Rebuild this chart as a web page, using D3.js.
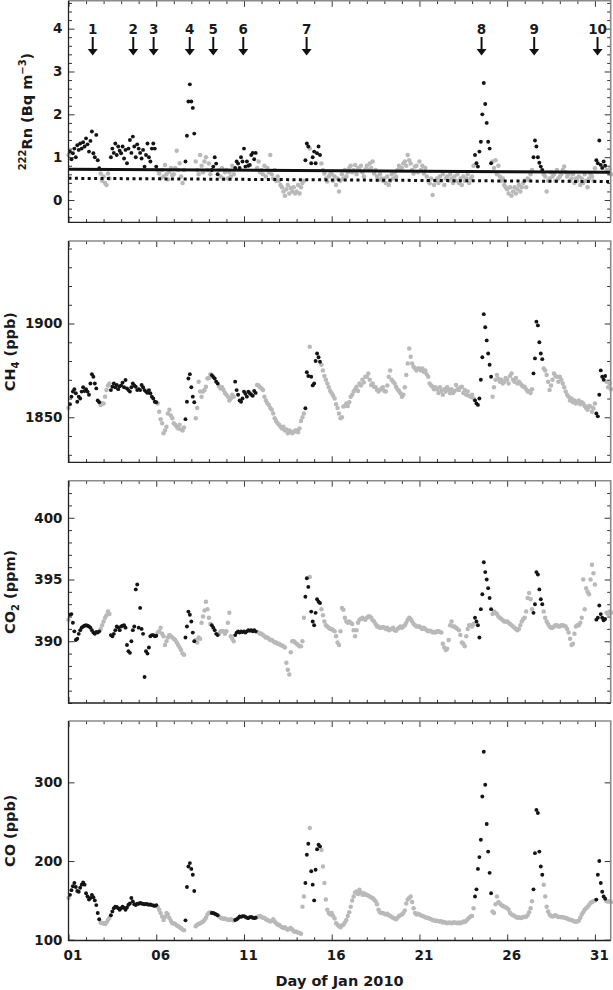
<!DOCTYPE html>
<html><head><meta charset="utf-8">
<script src="https://cdn.jsdelivr.net/npm/d3@7/dist/d3.min.js"></script>
<style>
body{margin:0;background:#fff}
svg{display:block}
text{font-family:"DejaVu Sans",sans-serif;font-weight:bold;fill:#1a1a1a}
</style>
</head><body>
<svg id="c" width="613" height="990"></svg>
<script>
// ---- data (2-hourly samples starting Jan 1 00:00) ----
const startDay = 1;
const stepDays = 2 / 24;

const rn = [
1.05,1.13,0.95,1.09,1.2,1.0,1.28,1.17,1.32,1.2,1.35,1.25,
1.44,1.3,1.13,1.38,1.6,1.09,1.0,1.52,0.93,0.74,0.62,0.45,
0.55,0.4,0.35,0.62,0.5,1.0,1.2,1.1,1.32,1.05,1.25,1.15,
1.09,1.25,0.97,1.17,0.86,1.2,1.4,1.1,1.48,1.25,1.0,1.3,
1.2,1.1,0.97,1.17,0.78,1.05,1.32,1.0,0.9,1.2,1.32,1.2,
0.78,0.7,0.62,0.5,0.7,0.55,0.82,0.6,0.48,0.66,0.75,0.58,
0.6,0.75,1.15,0.7,0.86,0.55,0.4,0.7,0.9,1.5,2.3,2.7,
2.3,2.15,1.55,0.9,0.7,0.6,1.05,0.8,0.65,0.9,1.0,0.7,
0.85,0.6,0.7,0.78,1.0,0.85,0.6,0.7,0.55,0.75,0.5,0.65,
0.7,0.5,0.65,0.55,0.8,0.6,0.75,0.9,0.85,0.75,1.0,0.9,
1.2,0.78,0.9,0.8,0.82,1.05,1.1,0.95,1.1,0.75,0.9,0.65,
0.7,0.6,0.8,0.55,0.75,0.65,1.05,0.6,0.5,0.7,0.45,0.55,
0.45,0.35,0.3,0.2,0.1,0.25,0.35,0.15,0.28,0.2,0.3,0.15,
0.2,0.35,0.15,0.3,0.4,0.45,0.93,1.32,1.25,1.2,0.86,1.0,
1.13,0.86,1.09,1.25,1.05,0.85,0.7,0.62,0.5,0.43,0.55,0.6,
0.6,0.45,0.55,0.35,0.5,0.2,0.45,0.6,0.5,0.7,0.55,0.65,
0.75,0.8,0.65,0.7,0.82,0.6,0.75,0.7,0.8,0.65,0.55,0.72,
0.8,0.7,0.85,0.75,0.9,0.62,0.7,0.55,0.47,0.6,0.5,0.45,
0.5,0.4,0.55,0.35,0.45,0.6,0.5,0.65,0.55,0.7,0.8,0.75,
0.75,0.85,0.9,0.8,1.05,0.93,0.85,0.7,0.62,0.78,0.8,0.65,
0.9,0.7,0.8,0.62,0.75,0.55,0.45,0.39,0.5,0.12,0.35,0.45,
0.5,0.4,0.55,0.45,0.6,0.35,0.5,0.55,0.45,0.6,0.5,0.4,
0.55,0.45,0.6,0.4,0.5,0.35,0.55,0.45,0.5,0.6,0.4,0.5,
0.55,0.8,1.05,0.86,0.78,1.13,1.36,2.0,2.73,2.24,1.8,1.36,
1.2,0.86,0.9,0.75,0.93,0.6,0.8,0.55,0.45,0.5,0.35,0.3,
0.25,0.15,0.3,0.1,0.2,0.3,0.15,0.25,0.35,0.2,0.3,0.4,
0.45,0.3,0.5,0.47,0.6,0.7,1.0,1.39,1.25,1.0,0.87,0.78,
0.7,0.6,0.55,0.2,0.45,0.5,0.65,0.55,0.6,0.45,0.7,0.5,
0.55,0.6,0.7,0.78,0.65,0.55,0.6,0.45,0.5,0.6,0.4,0.5,
0.45,0.55,0.35,0.5,0.4,0.6,0.45,0.3,0.5,0.6,0.55,0.45,
0.74,0.93,0.86,1.39,0.82,0.75,0.9,0.8,0.7,0.65,0.72,0.6
];

const ch4 = [
1855,1857,1861,1863.7,1865,1862.8,1858.3,1861,1860,1863.7,1866,1864,
1865,1863.7,1862,1868,1873,1871.6,1868,1865.4,1859,1858,1856.5,1857.5,
1857.4,1861,1864.5,1867,1868,1864.5,1866.3,1868,1866,1867.2,1865,1866.5,
1867,1868.5,1866,1869.9,1865.4,1864.5,1863.7,1866,1868,1867,1866.3,1864.5,
1865,1864.5,1867.2,1866,1864.5,1863.7,1863,1864.5,1862.8,1861,1860,1858.3,
1858,1857.4,1853,1849,1846.8,1841.5,1843,1845,1852,1854,1851,1849.5,
1846.8,1846,1845,1844,1846,1843.5,1843,1844.5,1849,1858.3,1870.7,1873,
1866,1861,1858,1849.5,1855,1869,1863.7,1861,1863.7,1864.5,1866.3,1870.7,
1871,1873,1872.5,1871.5,1870.7,1869,1868,1866.5,1865.4,1866,1864.5,1863,
1862,1861,1859,1860,1862,1861,1869,1864.5,1862,1859,1858.3,1860,
1863.7,1862.5,1861,1863.7,1862.8,1862,1861.5,1864,1863,1867.2,1867,1866,
1865.4,1864.5,1861,1859,1857.5,1856.6,1855,1854,1852,1849.5,1848,1846.8,
1846,1845,1844,1845,1843,1843.5,1841.5,1843,1842.4,1841.5,1842,1843,
1843,1842,1844,1848,1850,1852,1854.8,1874,1872,1887.6,1871.6,1867,
1868,1880,1884,1882,1879.6,1878,1875,1872,1870,1868,1866,1864,
1862.8,1861.5,1860,1857,1855,1852,1849.5,1850,1855.7,1856,1857.4,1856,
1858,1861,1862,1863.7,1865,1866.3,1864,1868,1867,1870,1868.5,1871.6,
1871.6,1873.4,1870,1867.2,1868,1866.3,1866,1864.5,1863.7,1864.5,1865.4,1866,
1864,1863.7,1867,1871.6,1875,1870,1869,1868,1866.3,1865,1864,1862.8,
1861,1862,1866,1872.5,1878.7,1886.7,1882.3,1878.7,1877,1876,1875,1876,
1876,1875,1876,1874.3,1875,1873,1871.6,1868,1867,1866.3,1865,1866,
1865,1863,1866,1864,1862,1865,1863.7,1866,1864.5,1862.8,1865,1863,
1864,1867.2,1865,1864.5,1866,1866.3,1863,1864.5,1862,1863.7,1861.5,1861,
1862,1860,1859,1857.4,1856.6,1860,1870,1882,1905,1898,1891,1884,
1878,1871.6,1861,1866,1870,1872.5,1870.5,1869,1870,1868,1869,1871,
1870,1868,1872,1873.4,1870,1869,1871,1868,1869,1868,1867,1866.3,
1866.3,1865,1863.7,1864,1863,1865,1873.4,1881.4,1901,1899,1890,1884,
1881,1876,1875,1872.5,1869,1864.5,1867,1870,1873.4,1872,1871.6,1869,
1871.6,1870,1868,1866,1863.7,1862,1861,1859,1860,1858,1859,1857.4,
1858.3,1859,1857,1858,1857.4,1856,1855,1854,1856,1855.7,1853,1854.8,
1857.4,1852,1850.5,1862,1875,1871.6,1870,1872,1869,1866,1868,1865
];

const co2 = [
391.75,392.15,392.2,391.5,390.8,390.1,390.2,390.6,390.9,391.1,391.2,391.25,
391.3,391.25,391.2,391.1,390.9,390.7,390.6,390.75,390.7,390.8,391.0,391.3,
391.6,391.9,392.1,392.4,392.2,390.5,390.4,390.6,390.9,391.2,391.1,390.9,
391.2,391.25,391.3,391.1,389.7,389.2,389.06,390.0,390.9,391.2,394.2,394.6,
391.1,392.7,391.0,390.6,387.1,389.2,389.0,389.5,390.4,390.5,390.5,390.4,
390.45,390.7,390.8,391.1,390.6,390.4,389.7,390.0,390.3,390.5,390.4,390.3,
390.2,390.1,389.9,389.7,389.5,389.3,389.0,388.9,390.3,391.2,392.4,392.15,
391.6,390.7,390.0,390.1,389.9,390.3,390.2,391.5,392.0,392.5,393.2,392.6,
391.9,391.4,391.3,391.1,390.9,390.6,390.5,390.6,390.8,390.8,390.8,390.6,
390.8,391.5,392.3,390.4,390.2,390.0,390.5,390.7,390.8,390.7,390.8,390.75,
390.8,390.7,390.8,390.9,390.85,390.9,390.8,390.9,390.8,390.75,390.7,390.6,
390.6,390.5,390.4,390.3,390.3,390.2,390.1,390.1,390.0,389.9,389.9,389.8,
389.8,389.7,389.65,389.6,389.5,388.25,387.7,387.3,389.1,390.0,390.0,389.9,
389.8,389.7,389.6,389.6,390.0,391.9,393.6,395.1,394.4,395.2,392.4,391.6,
391.3,392.3,393.4,393.2,393.1,392.6,392.1,391.6,391.3,391.2,391.1,391.0,
391.0,390.9,390.8,390.4,389.9,389.7,390.8,392.7,392.55,391.9,391.6,391.5,
391.6,391.5,391.4,390.9,390.4,390.9,391.5,391.75,391.8,391.9,391.8,391.75,
391.9,392.0,392.0,391.9,391.7,391.6,391.4,391.2,391.2,391.1,391.1,391.15,
391.1,391.0,391.1,390.9,390.95,391.0,391.1,390.9,390.85,391.0,391.1,391.2,
391.1,391.2,391.3,391.5,391.75,391.9,391.8,391.6,391.4,391.3,391.2,391.2,
391.2,391.1,391.0,391.1,391.0,390.9,390.8,390.85,390.8,390.7,390.75,390.7,
390.8,390.8,390.75,390.7,389.8,389.5,389.3,389.4,390.1,391.3,391.6,391.2,
391.2,391.1,391.0,390.9,390.5,389.9,389.8,389.6,390.4,391.0,391.3,391.3,
391.2,391.4,391.9,391.6,391.3,390.3,392.6,393.8,396.4,395.6,395.0,394.3,
393.5,392.6,392.2,392.4,392.3,392.2,392.0,391.9,391.8,391.7,391.6,391.6,
391.6,391.5,391.4,391.3,391.2,391.1,391.0,390.9,391.0,391.3,391.6,391.8,
391.9,392.4,393.5,393.9,393.4,392.6,392.3,393.0,395.6,395.4,394.2,393.4,
393.0,392.4,391.9,391.6,391.4,391.2,391.1,391.1,391.2,391.3,391.3,391.2,
391.2,391.3,391.3,391.25,391.2,391.0,390.7,390.2,389.7,389.8,390.6,391.2,
391.3,391.3,391.5,391.9,395.0,392.6,394.3,394.0,393.8,395.0,396.2,395.5,
394.6,391.75,391.9,392.9,392.2,391.9,391.7,391.8,392.3,392.2,392.4,392.3
];

const co = [
153,157,163,168,172,167,162,161,166,170,172.8,170,
159,155,151,153,157,154,150,144,134,126,122,121,
121,120,122,125,128,131,136,140,142,141.5,140,138,
140,142,140.5,138,141,144.5,146,153,148.7,145,144,145.7,
145.7,146.6,146,145.5,145,145.3,145,144.5,144.8,144,143.5,143,
144,142,138,134,129.6,125,129,134,132,127.5,124,121,
121,120,118,117,116,114.5,113,112,124.6,167,193,197.4,
190,182.6,162,117,119,120,121,122,123,125,128,132,
134,135,134,134,133,132,131,129.6,128,127,126.5,127,
126,125.5,125,126,125,124.5,125,126,127.5,129.6,129,130,
130,129,128,127.5,128.5,129,128,127.5,128,129,129.6,130,
129,128,127.5,126,125,124,123,124,126,123,121,119,
119,117,116,115,116,114,112.7,114,115,113,110.6,110,
110,109,108.5,107.6,142,155,172,208,222,242,187,170,
150,189,215,220.7,218.6,214,193,172,151,138,134,132,
134,130,127,121,119,117,116,118,119,122,125,130,
135,142,150,155,160,161.4,158,163.5,160,157,159,157,
157,156,155,153.5,153,151,149,145,138,135,134,134,
133,132,133,131,130,129,128,127,126,128,130,131,
132,134,137,146,151,153,155,148,140,134,132,133,
132,131,130,129.6,128.5,128,127.5,126.5,126,125,124.5,124,
124,123.5,123,123.5,122,122.5,121.5,121,122,121.5,121,122,
122,121.5,121,122,121,122,123,122.5,124,126,128,129.6,
130,140,155,164,190,205,227,282,339,297,247,212,
185,159,136,134,145,155,148,146,144,143,142,141,
140,138,134,132,131,130,129,128,128.5,127.5,128,129,
129,129.6,131,135,140,149,164,210,265,261,212,193,
182.6,170,155,142,136,132,130,129.6,130,131,130,129,
129,128.5,129,128,127.5,127,126,125.5,125,124,123,123,
123,124,128,132,135,138,140,142,144,146.6,148,149,
150,151,182.6,200,172,161,155,152,149,148.7,149,148
];

// event (black) periods, in day of January
const eventWindows = [
[1.08,2.8],[3.4,6.05],[7.65,8.2],[9.15,9.55],[10.45,11.7],
[14.45,14.7],[14.78,15.35],[24.15,25.1],[27.45,28.05],[31.02,31.6]
];
const eventDays = [2.38,4.69,5.85,7.91,9.25,10.96,14.57,24.54,27.54,31.15];
const eventLabels = ["1","2","3","4","5","6","7","8","9","10"];

const dayTicks = [1,6,11,16,21,26,31];
const dayTickLabels = ["01","06","11","16","21","26","31"];

const rnBaseDays = [1,31.9];
const rnBaseSolid = [0.72,0.647];
const rnBaseDotted = [0.507,0.43];

// ---- drawing ----
const svg = d3.select('#c');
const left = 68.5, right = 610.7;
const x = d3.scaleLinear().domain([1,31.9]).range([left,right]);

const panels = [
  {data:rn,  top:0.8,   bottom:222.3, domain:[-0.52,4.65], major:[0,1,2,3,4], minorStep:0.2,
   title:[["222",-6,10],["Rn (Bq m",6],["\u22123",-6,10],[")",6]], titleX:32},
  {data:ch4, top:241,   bottom:462.3, domain:[1826,1944], major:[1850,1900], minorStep:10,
   title:[["CH"],["4",4,10],[" (ppb)",-4]], titleX:14.5},
  {data:co2, top:480.7, bottom:703,   domain:[385,403], major:[390,395,400], minorStep:1,
   title:[["CO"],["2",4,10],[" (ppm)",-4]], titleX:14.5},
  {data:co,  top:721,   bottom:940.5, domain:[99,378], major:[100,200,300], minorStep:null,
   title:[["CO (ppb)"]], titleX:15}
];

const times = d3.range(rn.length).map(i => startDay + i*stepDays);
const isEvent = t => eventWindows.some(([a,b]) => t >= a - 1e-9 && t <= b + 1e-9);
const dayMinor = d3.range(1,32).filter(d => !dayTicks.includes(d));

function styleAxis(sel){
  sel.select('.domain').remove();
  sel.selectAll('line').attr('stroke','#333').attr('stroke-width',1);
  sel.attr('font-size',13.5).attr('font-family',null);
}

panels.forEach((p, pi) => {
  const y = d3.scaleLinear().domain(p.domain).range([p.bottom, p.top]);
  const g = svg.append('g');
  const pts = p.data.map((v,i) => ({t:times[i], v, ev:isEvent(times[i])}));

  g.selectAll('circle.gray').data(pts.filter(d => !d.ev)).join('circle')
    .attr('class','gray').attr('cx', d => x(d.t)).attr('cy', d => y(d.v))
    .attr('r',2.25).attr('fill','#b9b9b9');
  g.selectAll('circle.blk').data(pts.filter(d => d.ev)).join('circle')
    .attr('class','blk').attr('cx', d => x(d.t)).attr('cy', d => y(d.v))
    .attr('r',1.95).attr('fill','#141414');

  if (pi === 0) {
    const ln = d3.line().x(d => x(d[0])).y(d => y(d[1]));
    g.append('path').attr('d', ln(rnBaseDays.map((d,i)=>[d,rnBaseSolid[i]])))
      .attr('stroke','#111').attr('stroke-width',3).attr('fill','none');
    g.append('path').attr('d', ln(rnBaseDays.map((d,i)=>[d,rnBaseDotted[i]])))
      .attr('stroke','#111').attr('stroke-width',3).attr('stroke-dasharray','3,3.4').attr('fill','none');
    const ag = g.selectAll('g.ev').data(eventDays).join('g').attr('class','ev')
      .attr('transform', d => `translate(${x(d)},0)`);
    ag.append('text').attr('y',34).attr('text-anchor','middle').attr('font-size',13.5)
      .text((d,i) => eventLabels[i]);
    ag.append('line').attr('y1',37).attr('y2',50).attr('stroke','#111').attr('stroke-width',2);
    ag.append('path').attr('d','M-5,49L5,49L0,55.5Z').attr('fill','#111');
  }

  // y axes
  const minor = p.minorStep ? d3.range(Math.ceil(p.domain[0]/p.minorStep - 1e-9)*p.minorStep, p.domain[1], p.minorStep)
      .filter(v => !p.major.some(m => Math.abs(m - v) < 1e-6)) : [];
  g.append('g').attr('transform',`translate(${left},0)`)
    .call(d3.axisLeft(y).tickValues(p.major).tickSize(-6).tickPadding(6).tickFormat(d3.format('d'))).call(styleAxis);
  g.append('g').attr('transform',`translate(${right},0)`)
    .call(d3.axisRight(y).tickValues(p.major).tickSize(-6).tickFormat('')).call(styleAxis);
  if (minor.length) {
    g.append('g').attr('transform',`translate(${left},0)`)
      .call(d3.axisLeft(y).tickValues(minor).tickSize(-3.5).tickFormat('')).call(styleAxis);
    g.append('g').attr('transform',`translate(${right},0)`)
      .call(d3.axisRight(y).tickValues(minor).tickSize(-3.5).tickFormat('')).call(styleAxis);
  }

  // x axes (top and bottom of every panel)
  const last = pi === panels.length - 1;
  const bx = g.append('g').attr('transform',`translate(0,${p.bottom})`)
    .call(d3.axisBottom(x).tickValues(dayTicks).tickSize(-6).tickPadding(9.5)
      .tickFormat((d,i) => last ? dayTickLabels[i] : '')).call(styleAxis);
  bx.selectAll('text').attr('dx',4);
  g.append('g').attr('transform',`translate(0,${p.bottom})`)
    .call(d3.axisBottom(x).tickValues(dayMinor).tickSize(-3.2).tickFormat('')).call(styleAxis);
  g.append('g').attr('transform',`translate(0,${p.top})`)
    .call(d3.axisTop(x).tickValues(dayTicks).tickSize(-6).tickFormat('')).call(styleAxis);
  g.append('g').attr('transform',`translate(0,${p.top})`)
    .call(d3.axisTop(x).tickValues(dayMinor).tickSize(-3.2).tickFormat('')).call(styleAxis);

  // frame
  g.append('path').attr('d',`M${left},${p.top}H${right}V${p.bottom}`)
    .attr('stroke','#8a8a8a').attr('stroke-width',1.6).attr('fill','none');
  g.append('path').attr('d',`M${left},${p.top}V${p.bottom}H${right}`)
    .attr('stroke','#222').attr('stroke-width',1.3).attr('fill','none');

  // y title
  const cy = (p.top + p.bottom) / 2;
  const tt = svg.append('text').attr('transform',`translate(${p.titleX},${cy}) rotate(-90)`)
    .attr('text-anchor','middle').attr('font-size',14.5);
  p.title.forEach(([s, dy, fs]) => {
    const ts = tt.append('tspan').text(s);
    if (dy) ts.attr('dy', dy);
    if (fs) ts.attr('font-size', fs);
  });
});

svg.append('text').attr('x',(left+right)/2).attr('y',986).attr('text-anchor','middle')
  .attr('font-size',14.5).text('Day of Jan 2010');
</script>
</body></html>
